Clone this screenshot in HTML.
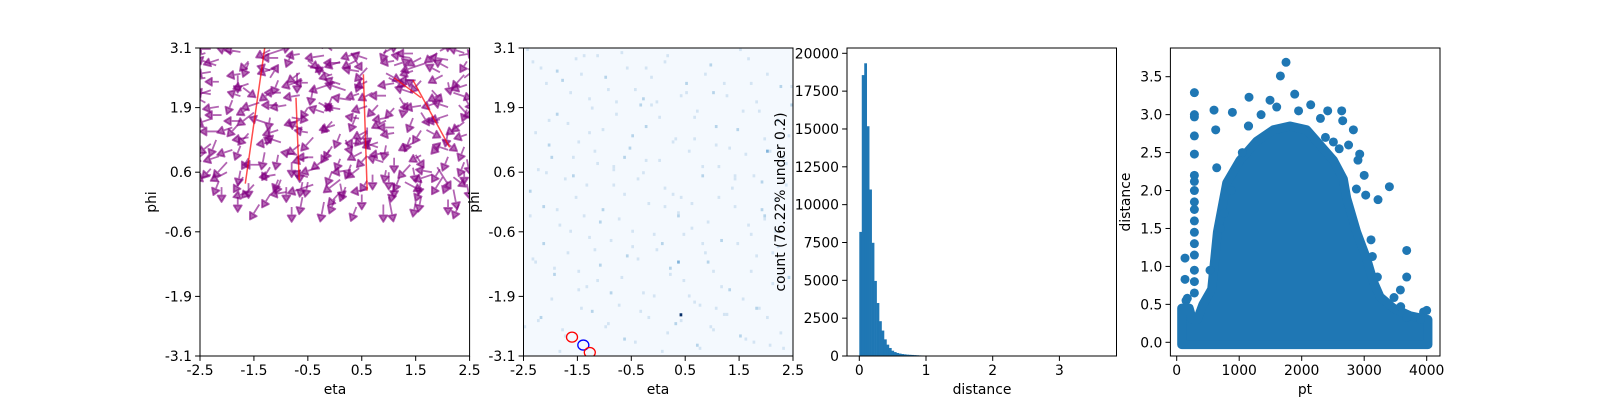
<!DOCTYPE html>
<html><head><meta charset="utf-8"><style>
html,body{margin:0;padding:0;background:#fff;overflow:hidden;width:1600px;height:400px;}
svg{display:block;}
svg text{font-family:"DejaVu Sans","Liberation Sans",sans-serif;font-size:13.9px;fill:#000;}
</style></head><body>
<svg id="fig" width="1600" height="400" viewBox="0 0 1600 400" xmlns="http://www.w3.org/2000/svg">
<rect width="1600" height="400" fill="#fff"/>
</svg>
<script>
// ---- Panel 1 quiver data: eta, phi, angle(deg), length(units)
const arrowEta=[-2.4,-1.9,-1.3,-0.8,-0.2,0.3,0.9,1.4,1.9,2.3,-2.2,-1.6,-1.1,-0.5,0.1,0.6,1.1,1.7,2.1,-2.4,-1.8,-1.2,-0.6,-0.1,0.5,1.0,1.5,2.0,2.4,-2.3,-1.7,-1.0,-0.4,0.2,0.7,1.2,1.8,2.2,-2.4,-1.9,-1.4,-0.9,-0.3,0.3,0.8,1.3,1.9,2.3,-2.1,-1.5,-0.8,-0.2,0.4,1.0,1.6,2.1,-2.4,-1.8,-1.2,-0.6,0.0,0.6,1.1,1.7,2.3,-2.2,-1.6,-1.0,-0.4,0.2,0.8,1.4,2.0,-2.4,-1.9,-1.3,-0.7,-0.1,0.5,1.0,1.5,2.1,-2.0,-1.4,-0.8,-0.3,0.3,0.9,1.4,1.9,2.4,-2.3,-1.7,-1.1,-0.5,0.1,0.7,1.2,1.8,2.2,-2.1,-1.5,-0.9,-0.4,0.2,0.6,1.1,1.6,2.2,-1.8,-1.2,-0.6,0.0,0.5,1.0,1.6,2.1,-1.4,-0.8,-0.2,0.4,0.9,1.5,2.3,-0.7,0.0,-1.3,0.6,1.2,-0.4,-2.0,1.8,-1.0,0.3,-0.2,0.8,1.3,-1.6,-0.6,0.1,0.4,-0.9,1.0,-1.9,2.0,
-2.3,-1.75,-1.2,-0.65,-0.05,0.45,0.95,1.45,1.95,2.4,-2.15,-1.6,-1.05,-0.5,0.1,0.6,1.1,1.6,2.1,2.45,-2.3,-1.75,-1.2,-0.65,-0.05,0.45,0.95,1.45,1.95,2.4,-2.15,-1.6,-1.05,-0.5,0.1,0.6,1.1,1.6,2.1,2.45,-2.3,-1.75,-1.2,-0.65,-0.05,0.45,0.95,1.45,1.95,2.4,-2.15,-1.6,-1.05,-0.5,0.1,0.6,1.1,1.6,2.1,2.45,-2.3,-1.75,-1.2,-0.65,-0.05,0.45,0.95,1.45,1.95,2.4,-2.15,-1.6,-1.05,-0.5,0.1,0.6,1.1,1.6,2.1,2.45,-2.3,-1.75,-1.2,-0.65,-0.05,0.45,0.95,1.45,1.95,2.4,-2.15,-1.6,-1.05,-0.5,0.1,0.6,1.1,1.6,2.1,2.45,-2.3,-1.75,-1.2,-0.65,-0.05,0.45,0.95,1.45,1.95,2.4,-2.15,-1.6,-1.05,-0.5,0.1,0.6,1.1,1.6,2.1,2.45];
const arrowPhi=[3.0,3.0,2.95,3.0,2.95,3.0,3.0,2.9,3.0,2.95,2.75,2.8,2.7,2.75,2.8,2.7,2.75,2.8,2.7,2.5,2.55,2.5,2.45,2.55,2.5,2.5,2.45,2.55,2.5,2.25,2.3,2.2,2.3,2.25,2.2,2.3,2.25,2.2,2.0,2.05,2.0,1.95,2.0,2.05,1.95,2.0,2.0,1.95,1.75,1.8,1.7,1.8,1.75,1.7,1.8,1.75,1.5,1.55,1.5,1.45,1.55,1.5,1.5,1.45,1.55,1.25,1.3,1.2,1.3,1.25,1.2,1.3,1.25,1.0,1.05,1.0,0.95,1.05,1.0,1.0,0.95,1.05,0.8,0.75,0.8,0.7,0.75,0.8,0.75,0.7,0.8,0.55,0.5,0.55,0.5,0.45,0.55,0.5,0.55,0.5,0.3,0.35,0.3,0.35,0.3,0.25,0.35,0.3,0.25,0.1,0.15,0.1,0.05,0.15,0.1,0.1,0.05,-0.05,-0.1,0.0,-0.1,-0.05,0.0,-0.05,2.6,2.4,1.6,1.4,2.1,0.9,0.6,0.6,0.45,0.65,0.85,1.1,0.4,0.2,0.4,0.2,2.85,0.2,0.6,1.5,0.5,
3.08,3.02,3.06,2.98,3.05,3.01,3.07,2.99,3.04,3.0,2.87,2.83,2.9,2.85,2.82,2.88,2.84,2.9,2.86,2.83,2.62,2.58,2.65,2.6,2.57,2.63,2.59,2.64,2.61,2.56,2.42,2.38,2.45,2.4,2.37,2.43,2.39,2.44,2.41,2.36,2.17,2.13,2.2,2.15,2.12,2.18,2.14,2.19,2.16,2.11,1.92,1.88,1.95,1.9,1.87,1.93,1.89,1.94,1.91,1.86,1.67,1.63,1.7,1.65,1.62,1.68,1.64,1.69,1.66,1.61,1.42,1.38,1.45,1.4,1.37,1.43,1.39,1.44,1.41,1.36,1.17,1.13,1.2,1.15,1.12,1.18,1.14,1.19,1.16,1.11,0.92,0.88,0.95,0.9,0.87,0.93,0.89,0.94,0.91,0.86,0.67,0.63,0.7,0.65,0.62,0.68,0.64,0.69,0.66,0.61,0.42,0.38,0.45,0.4,0.37,0.43,0.39,0.44,0.41,0.36];
const arrowAng=[200,160,20,250,190,300,30,170,220,10,160,250,200,340,180,230,20,200,150,190,270,60,200,150,250,330,180,210,40,200,320,180,260,160,210,30,310,340,150,250,200,190,330,170,230,260,200,310,180,220,350,160,250,190,300,200,170,230,260,150,200,270,180,330,220,250,190,160,230,290,200,250,320,220,200,260,170,240,210,190,300,160,230,180,270,200,250,160,230,300,250,200,240,190,160,220,270,250,200,320,270,230,270,200,250,190,260,250,280,270,240,260,250,270,280,260,270,240,270,260,250,270,260,250,270,200,160,230,300,180,210,170,250,190,220,160,330,200,260,230,210,190,270,200,240,180,
170,210,190,140,200,250,180,30,160,200,230,180,320,200,160,190,210,170,240,190,190,160,220,200,170,330,200,150,230,180,200,250,180,160,210,190,230,280,200,170,160,220,190,250,200,180,160,210,300,190,210,180,240,170,200,230,190,160,250,200,180,260,200,230,170,210,250,190,220,180,230,200,170,250,210,190,240,260,200,220,250,190,220,240,180,260,210,230,250,200,240,260,200,250,230,270,210,250,280,230,260,240,270,250,220,260,280,240,270,250,270,250,260,280,240,270,260,250,280,260];
const arrowLen=[0.35,0.3,0.5,0.3,0.35,0.4,0.3,0.35,0.3,0.3,0.4,0.3,0.35,0.3,0.3,0.35,0.3,0.5,0.3,0.3,0.35,0.3,0.4,0.3,0.3,0.35,0.3,0.3,0.3,0.35,0.3,0.3,0.35,0.4,0.3,0.3,0.3,0.35,0.3,0.3,0.35,0.3,0.3,0.35,0.3,0.3,0.3,0.35,0.3,0.4,0.3,0.3,0.35,0.3,0.3,0.35,0.3,0.3,0.35,0.3,0.3,0.35,0.3,0.3,0.3,0.35,0.3,0.3,0.35,0.3,0.3,0.3,0.35,0.3,0.3,0.35,0.3,0.3,0.3,0.35,0.3,0.3,0.4,0.3,0.3,0.35,0.3,0.3,0.35,0.5,0.3,0.3,0.35,0.3,0.3,0.4,0.3,0.3,0.35,0.3,0.3,0.35,0.3,0.5,0.3,0.3,0.35,0.3,0.4,0.3,0.3,0.35,0.3,0.3,0.5,0.3,0.3,0.35,0.3,0.4,0.3,0.35,0.3,0.3,0.4,0.5,0.3,0.35,0.3,0.3,0.35,0.3,0.3,0.35,0.3,0.3,0.35,0.3,0.3,0.35,0.3,0.3,0.35,0.3,0.4,0.3,0.3,
0.3,0.25,0.3,0.35,0.25,0.3,0.25,0.3,0.3,0.25,0.3,0.25,0.3,0.3,0.25,0.3,0.35,0.25,0.3,0.25,0.25,0.3,0.25,0.3,0.3,0.25,0.3,0.35,0.25,0.3,0.3,0.25,0.3,0.25,0.3,0.3,0.25,0.3,0.3,0.25,0.25,0.3,0.3,0.25,0.3,0.35,0.25,0.3,0.3,0.25,0.3,0.25,0.3,0.3,0.25,0.3,0.3,0.25,0.3,0.3,0.25,0.3,0.3,0.25,0.3,0.3,0.25,0.3,0.35,0.3,0.3,0.25,0.3,0.3,0.25,0.3,0.3,0.25,0.3,0.3,0.25,0.3,0.3,0.25,0.3,0.3,0.25,0.3,0.3,0.25,0.3,0.3,0.25,0.3,0.3,0.25,0.3,0.3,0.25,0.3,0.3,0.25,0.3,0.3,0.25,0.3,0.3,0.25,0.3,0.3,0.25,0.3,0.3,0.25,0.3,0.3,0.25,0.3,0.3,0.25];
// red lines: [eta, phi]
const redLineStart=[[-1.3,3.1],[-0.72,2.1],[0.53,2.57],[1.45,2.45],[1.1,2.5]];
const redLineEnd=[[-1.66,0.37],[-0.66,0.44],[0.6,0.23],[2.13,1.1],[1.6,2.1]];

// ---- Panel 2 heatmap cells (ix, iy on 100x100 grid) and level
const heatIx=[3,8,12,17,22,25,30,34,38,41,45,49,52,56,60,63,67,71,75,79,83,87,91,95,98,5,10,15,20,27,33,39,44,50,55,61,66,72,77,82,88,93,97,2,7,13,19,24,29,35,40,46,51,57,62,68,73,78,84,89,94,4,11,16,23,28,36,42,48,54,59,65,70,76,81,86,92,6,14,21,31,37,43,53,58,64,69,74,80,85,90,96,9,18,26,32,47,57,44,70,
1,6,14,19,24,31,36,43,47,53,58,64,69,74,80,86,90,94,99,4,9,16,21,26,29,34,40,45,50,55,60,66,71,76,81,85,89,96,2,8,12,18,23,28,33,37,42,48,52,57,62,67,72,78,83,88,93,97,3,7,11,17,22,27,32,38,44,49,54,59,63,68,73,79,84,87,92,98,5,10,15,20,25,30,35,41,46,51,56,61,65,70,75,82,86,91,95,0,13,24,37,52,66,78,89,99,20,45,71,58,33,12,84,40,63,27,90];
const heatIy=[95,88,92,85,97,80,90,78,93,86,74,82,95,70,88,77,91,68,84,73,96,79,66,87,71,60,64,57,69,62,55,67,59,63,52,66,58,61,54,65,56,50,62,45,48,42,51,38,47,44,40,49,36,46,41,43,37,48,39,45,35,30,26,33,22,29,25,31,19,28,24,16,27,21,18,32,23,12,8,15,10,5,14,7,11,3,9,13,6,4,12,2,76,58,34,20,81,30,83,85,
99,93,89,96,83,86,98,81,90,97,84,79,94,88,99,82,91,76,87,72,68,75,91,66,73,82,71,63,77,69,85,61,74,67,79,58,70,64,53,59,47,64,55,43,60,52,57,39,54,45,49,33,51,58,42,47,40,55,31,36,28,40,45,24,37,32,20,34,26,39,17,30,22,36,27,15,33,25,11,18,6,21,14,9,16,4,12,1,10,19,2,8,13,5,15,3,7,9,1,72,64,48,36,57,44,81,27,93,15,51,61,78,88,35,70,97,66,42];
const heatLvl=[1,1,2,1,1,1,2,1,1,1,2,1,1,1,2,1,1,1,1,2,1,1,1,2,1,1,2,1,1,1,1,2,1,1,1,1,2,1,1,1,2,1,1,1,2,1,1,1,2,1,1,1,2,1,1,1,2,1,1,2,1,1,2,1,1,2,1,1,1,2,1,1,1,2,1,1,1,2,1,1,1,2,1,1,1,2,1,1,2,1,1,1,1,2,1,2,1,3,2,2,
1,1,2,1,1,1,1,2,1,1,1,1,2,1,1,1,1,2,1,1,2,1,1,1,1,1,2,1,1,1,1,1,2,1,1,1,1,1,2,1,1,1,1,2,1,1,1,1,1,2,1,1,1,1,1,2,1,1,1,2,1,1,1,1,1,2,1,1,1,1,1,2,1,1,1,1,1,2,1,1,1,1,2,1,1,1,1,1,2,1,1,1,1,1,2,1,1,1,1,1,2,1,1,1,1,2,1,1,1,1,1,2,1,1,1,1,3,1];
const circEta=[-1.6,-1.39,-1.27];
const circPhi=[-2.72,-2.88,-3.03];
const circColor=["red","blue","red"];

// ---- Panel 3 histogram
const histCounts=[8200,18560,19340,15180,11000,7480,4960,3500,2300,1680,1100,750,530,350,260,200,160,130,110,90,80,70,60,50,40,35,30,25,20,15,12,10,8,6];
const histBinWidth=0.037;
const histYTicks=[0,2500,5000,7500,10000,12500,15000,17500,20000];
const histXTicks=[0,1,2,3];

// ---- Panel 4 scatter: core envelope + individual points
const envPt=[80,80,200,250,330,420,560,651,800,1013,1280,1547,1813,2080,2293,2507,2667,2720,2880,3040,3147,3253,3467,3733,4020,4020];
const envD=[-0.03,0.45,0.45,0.3,0.3,0.5,0.7,1.45,2.1,2.4,2.65,2.8,2.85,2.8,2.6,2.4,2.15,1.9,1.45,1.1,0.8,0.6,0.45,0.35,0.3,-0.03];
const ptVals=[1749,1659,1888,1157,283,283,283,283,283,283,283,283,283,283,283,283,283,283,283,597,624,640,2928,3403,3221,3024,2875,3680,3680,3579,3477,3680,3584,3109,3131,3211,533,133,133,2640,2416,1147,891,1493,2144,2656,2827,2507,700,1150,1350,1600,1950,2300,2750,2900,3000,760,870,1050,2380,2600,3900,3950,4000,283,283,150,170];
const distVals=[3.69,3.51,3.27,3.23,3.29,3.0,2.97,2.72,2.48,2.2,2.12,2.0,1.85,1.75,1.6,1.45,1.3,1.15,0.95,3.06,2.8,2.3,2.48,2.05,1.88,1.94,2.02,1.21,0.86,0.69,0.59,0.33,0.47,1.35,1.13,0.86,0.95,1.11,0.83,3.05,3.05,2.85,3.03,3.19,3.13,2.92,2.8,2.64,1.5,2.85,3.0,3.1,3.05,2.95,2.6,2.4,2.2,1.7,2.0,2.5,2.7,2.55,0.3,0.4,0.42,0.8,0.65,0.55,0.58];
const scXTicks=[0,1000,2000,3000,4000];
const scYTicks=[0.0,0.5,1.0,1.5,2.0,2.5,3.0,3.5];

const NS="http://www.w3.org/2000/svg";
const svg=document.getElementById('fig');
function mk(tag,attrs,parent){const e=document.createElementNS(NS,tag);for(const k in attrs)e.setAttribute(k,attrs[k]);(parent||svg).appendChild(e);return e;}
function scale(d0,d1,p0,p1){return v=>p0+(v-d0)*(p1-p0)/(d1-d0);}
function clip(id,x0,y0,x1,y1){const c=mk('clipPath',{id:id});mk('rect',{x:x0,y:y0,width:x1-x0,height:y1-y0},c);}

function frame(x0,y0,x1,y1,name){
  const r=mk('rect',{x:x0,y:y0,width:x1-x0,height:y1-y0,fill:'none',stroke:'#000','stroke-width':1});
  
  
}
function xtick(px,y,label,name){
  const g=mk('g',{});
  
  
  mk('line',{x1:px,y1:y,x2:px,y2:y+4.9,stroke:'#000'},g);
  const t=mk('text',{x:px,y:y+19,'text-anchor':'middle'},g);t.textContent=label;
}
function ytick(py,x,label,name){
  const g=mk('g',{});
  
  
  mk('line',{x1:x-4.9,y1:py,x2:x,y2:py,stroke:'#000'},g);
  const t=mk('text',{x:x-8,y:py+5,'text-anchor':'end'},g);t.textContent=label;
}
function label(x,y,txt,rot,name){
  const t=mk('text',{x:x,y:y,'text-anchor':'middle',transform:rot?`rotate(-90 ${x} ${y})`:''});
  t.textContent=txt;
  
  
}
const etaTicks=[-2.5,-1.5,-0.5,0.5,1.5,2.5];
const phiTicks=[3.1,1.9,0.6,-0.6,-1.9,-3.1];
const TOP=48,BOT=356;

// ===== Panel 1
{
  const X0=200,X1=469.6,Y0=TOP,Y1=BOT;
  const sx=scale(-2.5,2.5,X0,X1), sy=scale(3.1,-3.1,Y0,Y1);
  clip('c1',X0,Y0,X1,Y1);
  const g=mk('g',{'clip-path':'url(#c1)'});
  
  
  for(let i=0;i<arrowEta.length;i++){
    const a=arrowAng[i]*Math.PI/180, L=arrowLen[i];
    const x1=sx(arrowEta[i]),y1=sy(arrowPhi[i]);
    const x2=sx(arrowEta[i]+L*Math.cos(a)),y2=sy(arrowPhi[i]+L*Math.sin(a));
    const ang=Math.atan2(y2-y1,x2-x1);
    const hl=6.5,hw=4;
    const bx=x2-hl*Math.cos(ang),by=y2-hl*Math.sin(ang);
    const p=`M${x1},${y1}L${bx},${by}L${bx-hw*Math.sin(ang)},${by+hw*Math.cos(ang)}L${x2},${y2}L${bx+hw*Math.sin(ang)},${by-hw*Math.cos(ang)}L${bx},${by}`;
    const e=mk('path',{d:p,stroke:'#800080','stroke-width':1.8,fill:'#800080','fill-opacity':0.6,'stroke-opacity':0.6,'stroke-linejoin':'round'},g);
    
    
  }
  for(let i=0;i<redLineStart.length;i++){
    const e=mk('line',{x1:sx(redLineStart[i][0]),y1:sy(redLineStart[i][1]),x2:sx(redLineEnd[i][0]),y2:sy(redLineEnd[i][1]),stroke:'red','stroke-width':1.5,'stroke-opacity':0.7},g);
    
    
  }
  frame(X0,Y0,X1,Y1,'panel1');
  etaTicks.forEach(v=>xtick(sx(v),Y1,v.toFixed(1),'p1-x-tick'));
  phiTicks.forEach(v=>ytick(sy(v),X0,v.toFixed(1),'p1-y-tick'));
  label(335,394,'eta',false,'p1-x-axis-title');
  label(156,202,'phi',true,'p1-y-axis-title');
}
// ===== Panel 2
{
  const X0=523.5,X1=793,Y0=TOP,Y1=BOT;
  const sx=scale(-2.5,2.5,X0,X1), sy=scale(3.1,-3.1,Y0,Y1);
  const bg=mk('rect',{x:X0,y:Y0,width:X1-X0,height:Y1-Y0,fill:'#f4f9fe'});
  
  
  const cw=(X1-X0)/100,ch=(Y1-Y0)/100;
  const cols=['#f4f9fe','#d3e4f3','#b6d4ea','#7fb2da','#08306b'];
  for(let i=0;i<heatIx.length;i++){
    const e=mk('rect',{x:X0+heatIx[i]*cw,y:Y1-(heatIy[i]+1)*ch,width:cw,height:ch,fill:cols[heatLvl[i]]});
    
    
  }
  const dark=mk('rect',{x:sx(0.42)-1.3,y:sy(-2.27)-1.5,width:cw,height:ch,fill:'#08306b'});
  
  
  clip('c2',X0,Y0,X1,Y1);
  for(let i=0;i<circEta.length;i++){
    const e=mk('ellipse',{cx:sx(circEta[i]),cy:sy(circPhi[i]),rx:5.5,ry:5,fill:'none',stroke:circColor[i],'stroke-width':1.3,'clip-path':'url(#c2)'});
    
    
  }
  frame(X0,Y0,X1,Y1,'panel2');
  etaTicks.forEach(v=>xtick(sx(v),Y1,v.toFixed(1),'p2-x-tick'));
  phiTicks.forEach(v=>ytick(sy(v),X0,v.toFixed(1),'p2-y-tick'));
  label(658,394,'eta',false,'p2-x-axis-title');
  label(479,202,'phi',true,'p2-y-axis-title');
}
// ===== Panel 3
{
  const X0=847,X1=1116.5,Y0=TOP,Y1=BOT;
  const sx=scale(0,1,859.3,926), sy=scale(0,20350,Y1,Y0);
  const g=mk('g',{});
  
  
  for(let i=0;i<histCounts.length;i++){
    const xa=sx(i*histBinWidth),xb=sx((i+1)*histBinWidth);
    const e=mk('rect',{x:xa,y:sy(histCounts[i]),width:xb-xa+0.3,height:sy(0)-sy(histCounts[i]),fill:'#1f77b4'},g);
    
    
  }
  frame(X0,Y0,X1,Y1,'panel3');
  histXTicks.forEach(v=>xtick(sx(v),Y1,String(v),'p3-x-tick'));
  histYTicks.forEach(v=>ytick(sy(v),X0,String(v),'p3-y-tick'));
  label(982,394,'distance',false,'p3-x-axis-title');
  label(785,202,'count (76.22% under 0.2)',true,'p3-y-axis-title');
}
// ===== Panel 4
{
  const X0=1170.4,X1=1440,Y0=TOP,Y1=BOT;
  const sx=scale(0,1000,1176.7,1239.2), sy=scale(0,3.5,342.3,76.7);
  let d='';
  for(let i=0;i<envPt.length;i++)d+=(i?'L':'M')+sx(envPt[i])+','+sy(envD[i]);
  const core=mk('path',{d:d+'Z',fill:'#1f77b4',stroke:'#1f77b4','stroke-width':9,'stroke-linejoin':'round'});
  
  
  for(let i=0;i<ptVals.length;i++){
    const e=mk('circle',{cx:sx(ptVals[i]),cy:sy(distVals[i]),r:4.5,fill:'#1f77b4'});
    
    
  }
  frame(X0,Y0,X1,Y1,'panel4');
  scXTicks.forEach(v=>xtick(sx(v),Y1,String(v),'p4-x-tick'));
  scYTicks.forEach(v=>ytick(sy(v),X0,v.toFixed(1),'p4-y-tick'));
  label(1305,394,'pt',false,'p4-x-axis-title');
  label(1130,202,'distance',true,'p4-y-axis-title');
}
</script>
</body></html>
